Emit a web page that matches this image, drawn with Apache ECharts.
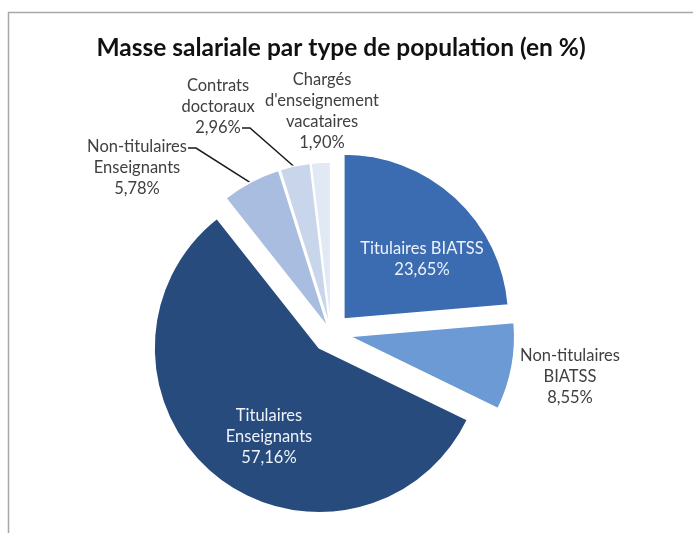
<!DOCTYPE html>
<html>
<head>
<meta charset="utf-8">
<script src="https://cdn.jsdelivr.net/npm/echarts@6/dist/echarts.min.js"></script>
<style>
  html, body { margin: 0; padding: 0; background: #fff; }
  #chart { width: 693px; height: 533px; }
</style>
</head>
<body>
<div id="chart"></div>
<script>
// données (ordre horaire depuis midi)
var categories = [
  'Titulaires BIATSS',
  'Non-titulaires\nBIATSS',
  'Titulaires\nEnseignants',
  'Non-titulaires\nEnseignants',
  'Contrats\ndoctoraux',
  'Chargés\nd\'enseignement\nvacataires'
];
var values = [23.65, 8.55, 57.16, 5.78, 2.96, 1.90];
var colors = ['#3b6cb2', '#6b9ad4', '#284b7e', '#a9bde0', '#c8d5eb', '#e1e9f5'];

// placement des étiquettes (px) et style
var labelPos = [[422, 259], [570, 377], [269, 437], [137, 168], [218, 107], [322, 111]];
var insideLabel = [true, false, true, false, false, false];
// début du trait de rappel, relatif au centre de l'étiquette
var lineStart = [null, null, null, [51, -20], [24, 21], null];

var pieCenter = [331, 333];
var pieRadius = 165;
var explode = [19, 19, 19, 6, 6, 6]; // éclatement de chaque secteur

var myChart = echarts.init(document.getElementById('chart'));

var total = values.reduce(function (a, b) { return a + b; }, 0);

function fmt(v) {
  return v.toFixed(2).replace('.', ',') + '%';
}

// une série par secteur pour décaler chacun comme dans Excel
var cum = 0;
var series = values.map(function (v, k) {
  var mid = (cum + v / 2) / total * 2 * Math.PI;
  cum += v;
  var cx = pieCenter[0] + explode[k] * Math.sin(mid);
  var cy = pieCenter[1] - explode[k] * Math.cos(mid);
  // point d'accroche sur l'arc du secteur
  var anchor = [cx + (pieRadius - 2) * Math.sin(mid), cy - (pieRadius - 2) * Math.cos(mid)];
  return {
    type: 'pie',
    silent: true,
    center: [cx, cy],
    radius: pieRadius,
    startAngle: 90,
    clockwise: true,
    avoidLabelOverlap: false,
    label: {
      fontFamily: 'Lato',
      fontSize: 16.5,
      lineHeight: 21,
      align: 'center',
      formatter: function (p) {
        return p.name + '\n' + fmt(p.value);
      }
    },
    labelLine: {
      length: 10,
      length2: 10,
      lineStyle: { color: '#1a1a1a', width: 1.5 }
    },
    labelLayout: function (p) {
      var i = p.dataIndex;
      var pos = labelPos[i];
      var out = { x: pos[0], y: pos[1], align: 'center', verticalAlign: 'middle' };
      if (i === k && lineStart[i]) {
        var s = [pos[0] + lineStart[i][0], pos[1] + lineStart[i][1]];
        out.labelLinePoints = [s, [s[0] + 8, s[1]], anchor];
      }
      return out;
    },
    emphasis: { disabled: true },
    data: values.map(function (w, i) {
      var on = i === k;
      return {
        name: categories[i],
        value: w,
        itemStyle: on
          ? { color: colors[i], borderColor: '#ffffff', borderWidth: 1.5 }
          : { color: 'rgba(0,0,0,0)', borderWidth: 0 },
        label: {
          show: on,
          color: insideLabel[i] ? '#eef2f9' : '#404040'
        },
        labelLine: { show: on && !!lineStart[i] }
      };
    })
  };
});

myChart.setOption({
  animation: false,
  backgroundColor: '#ffffff',
  title: {
    text: 'Masse salariale par type de population (en %)',
    left: 336,
    top: 31,
    textAlign: 'center',
    textStyle: {
      fontFamily: 'Lato',
      fontSize: 24.5,
      fontWeight: 'bold',
      color: '#111'
    }
  },
  graphic: [{
    type: 'rect',
    shape: { x: 8.5, y: 12.5, width: 720, height: 560 },
    style: { fill: 'none', stroke: '#a8a8a8', lineWidth: 1.5 },
    silent: true
  }],
  series: series
});
</script>
</body>
</html>
